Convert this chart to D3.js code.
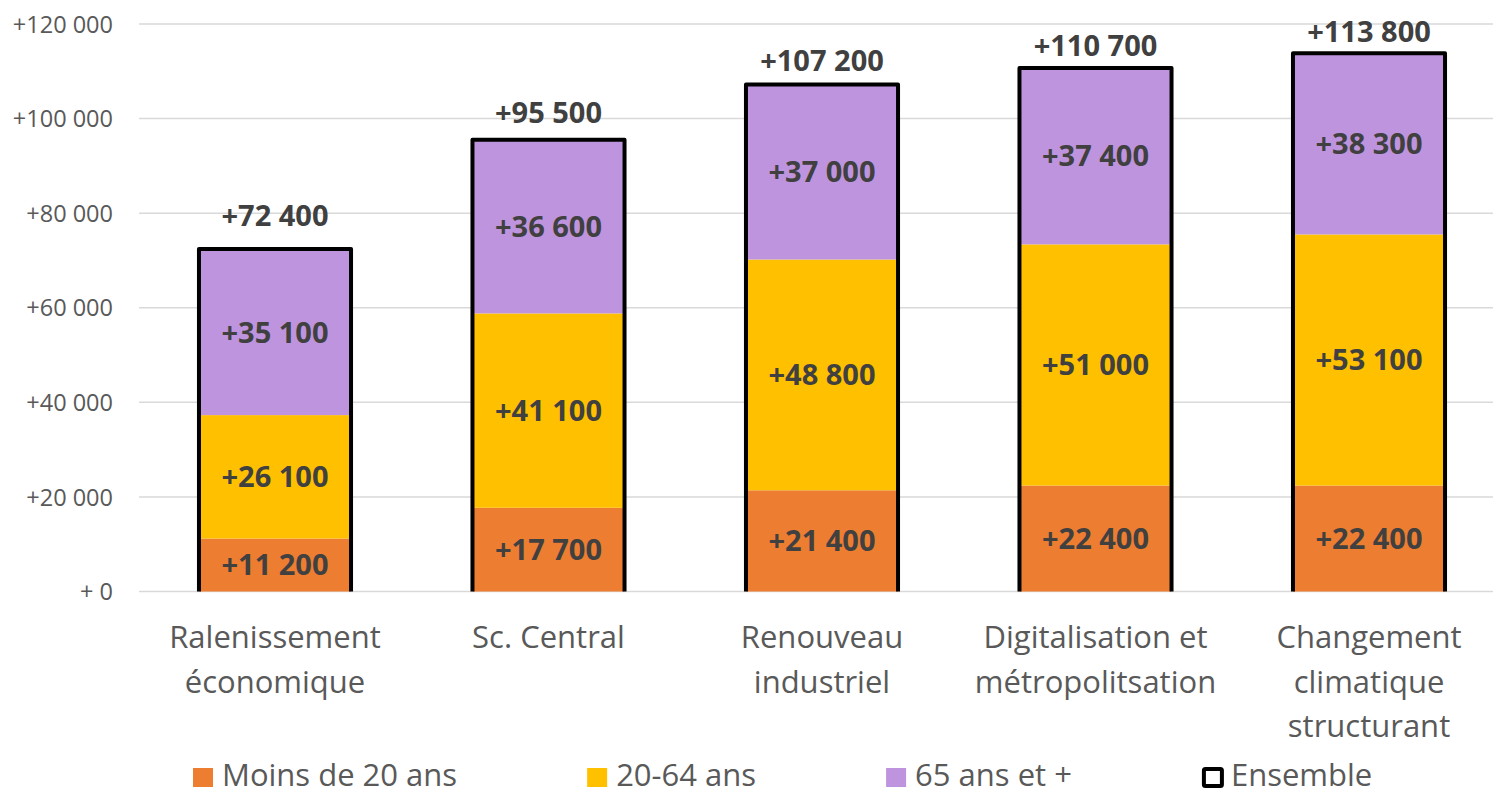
<!DOCTYPE html>
<html>
<head>
<meta charset="utf-8">
<script src="https://cdn.jsdelivr.net/npm/d3@7"></script>
<style>
  html, body { margin: 0; padding: 0; background: #fff; }
  svg { display: block; font-family: "Open Sans", sans-serif; }
</style>
</head>
<body>
<svg id="chart" width="1493" height="794"></svg>
<script>
// ---------- DATA ----------
const categories = [
  "Ralenissement\néconomique",
  "Sc. Central",
  "Renouveau\nindustriel",
  "Digitalisation et\nmétropolitsation",
  "Changement\nclimatique\nstructurant"
];
const moins20 = [11200, 17700, 21400, 22400, 22400];
const age20_64 = [26100, 41100, 48800, 51000, 53100];
const age65plus = [35100, 36600, 37000, 37400, 38300];
const ensemble = [72400, 95500, 107200, 110700, 113800];
const yTicks = [0, 20000, 40000, 60000, 80000, 100000, 120000];
const seriesNames = ["Moins de 20 ans", "20-64 ans", "65 ans et +", "Ensemble"];
const seriesColors = ["#ED7D31", "#FFC000", "#BF94DE"];

// ---------- LAYOUT ----------
const svg = d3.select("#chart");
const W = 1493, H = 794;
const plotLeft = 138.25, plotRight = 1505.75;
const y0px = 591.5, yTopPx = 24;

const x = d3.scaleBand()
  .domain(categories)
  .range([plotLeft, plotRight])
  .paddingInner(0.444)
  .paddingOuter(0.222);

const y = d3.scaleLinear().domain([0, 120000]).range([y0px, yTopPx]);
// scale used for the baseline of the total labels (secondary placement)
const yTot = d3.scaleLinear().domain([0, 120000]).range([547.8, 14.5]);

const fmtLabel = v => "+" + Math.round(v).toString().replace(/\B(?=(\d{3})+(?!\d))/g, " ");

// gridlines
const grid = svg.append("g");
grid.selectAll("line").data(yTicks).join("line")
  .attr("x1", plotLeft + 0.75).attr("x2", W)
  .attr("y1", d => y(d)).attr("y2", d => y(d))
  .attr("stroke", "#D9D9D9").attr("stroke-width", 1.5);

// y-axis
const yAxis = d3.axisLeft(y).tickValues(yTicks).tickSize(0).tickPadding(0)
  .tickFormat(d => d === 0 ? "+ 0" : fmtLabel(d));
const yAxisG = svg.append("g").attr("transform", "translate(113,0)").call(yAxis);
yAxisG.select(".domain").remove();
yAxisG.selectAll("text")
  .attr("font-family", "Open Sans, sans-serif")
  .attr("font-size", 23.5)
  .attr("fill", "#595959")
  .attr("dy", "0.35em");

// stacked data
const stackInput = categories.map((c, i) => ({
  cat: c, s0: moins20[i], s1: age20_64[i], s2: age65plus[i]
}));
const layers = d3.stack().keys(["s0", "s1", "s2"])(stackInput);

const barsG = svg.append("g");
layers.forEach((layer, li) => {
  barsG.append("g").selectAll("rect").data(layer).join("rect")
    .attr("x", d => x(d.data.cat))
    .attr("width", x.bandwidth())
    .attr("y", d => y(d[1]))
    .attr("height", d => y(d[0]) - y(d[1]))
    .attr("fill", seriesColors[li]);
});

// segment labels
layers.forEach((layer, li) => {
  barsG.append("g").selectAll("text").data(layer).join("text")
    .attr("x", d => x(d.data.cat) + x.bandwidth() / 2)
    .attr("y", d => y((d[0] + d[1]) / 2))
    .attr("dy", "0.36em")
    .attr("text-anchor", "middle")
    .attr("font-size", 29)
    .attr("font-weight", "bold")
    .attr("fill", "#404040")
    .text(d => fmtLabel(d[1] - d[0]));
});

// Ensemble outline (open at the bottom)
svg.append("g").selectAll("path").data(categories).join("path")
  .attr("d", (c, i) => {
    const xl = x(c), xr = x(c) + x.bandwidth(), yt = y(ensemble[i]);
    return `M${xl},${y0px} V${yt} H${xr} V${y0px}`;
  })
  .attr("fill", "none")
  .attr("stroke", "#000")
  .attr("stroke-width", 4)
  .attr("stroke-linejoin", "round");

// total labels
svg.append("g").selectAll("text").data(categories).join("text")
  .attr("x", c => x(c) + x.bandwidth() / 2)
  .attr("y", (c, i) => yTot(ensemble[i]))
  .attr("text-anchor", "middle")
  .attr("font-size", 29)
  .attr("font-weight", "bold")
  .attr("fill", "#404040")
  .text((c, i) => fmtLabel(ensemble[i]));

// category labels
const catG = svg.append("g");
categories.forEach(c => {
  const lines = c.split("\n");
  const t = catG.append("text")
    .attr("text-anchor", "middle")
    .attr("font-size", 31)
    .attr("fill", "#595959");
  lines.forEach((ln, k) => {
    t.append("tspan")
      .attr("x", x(c) + x.bandwidth() / 2)
      .attr("y", 648 + k * 44.5)
      .text(ln);
  });
});

// legend
const legG = svg.append("g");
let lx = 193;
const legBase = 786;
seriesNames.forEach((name, i) => {
  if (i < 3) {
    legG.append("rect").attr("x", lx).attr("y", 768).attr("width", 20).attr("height", 19)
      .attr("fill", seriesColors[i]);
  } else {
    legG.append("rect").attr("x", lx + 2).attr("y", 769).attr("width", 18).attr("height", 17)
      .attr("fill", "#fff").attr("stroke", "#000").attr("stroke-width", 4)
      .attr("rx", 1.5);
  }
  const txt = legG.append("text")
    .attr("x", lx + 29)
    .attr("y", legBase)
    .attr("font-size", 31)
    .attr("fill", "#595959")
    .text(name);
  const w = txt.node().getComputedTextLength();
  lx = lx + 29 + w + 130;
});
</script>
</body>
</html>
